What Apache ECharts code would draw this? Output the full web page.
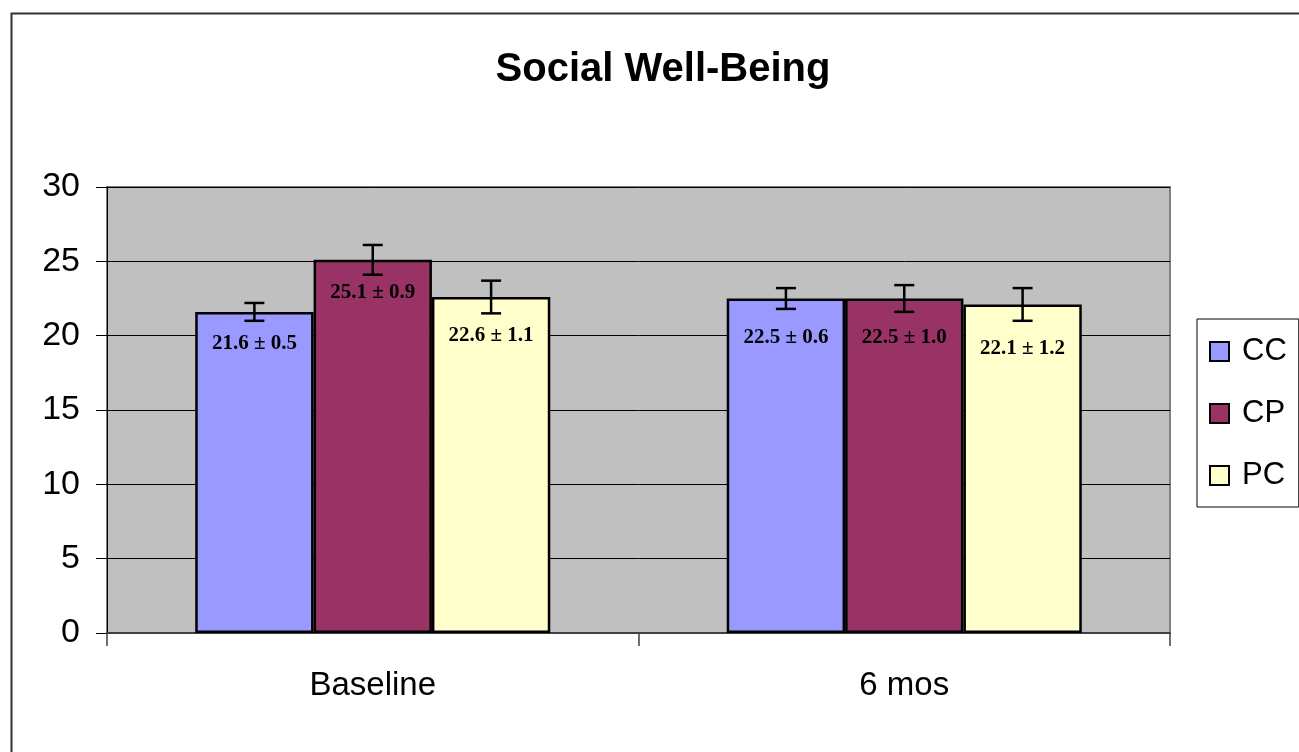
<!DOCTYPE html>
<html>
<head>
<meta charset="utf-8">
<script src="https://cdn.jsdelivr.net/npm/echarts@6/dist/echarts.min.js"></script>
<style>
  html, body { margin: 0; padding: 0; background: #fff; }
  #chart { width: 1299px; height: 752px; }
</style>
</head>
<body>
<div id="chart"></div>
<script>
// data
const categories = ['Baseline', '6 mos']
const groupNames = ['CC', 'CP', 'PC']
const ccValues = [21.6, 22.5]
const cpValues = [25.1, 22.5]
const pcValues = [22.6, 22.1]
// printed +/- values in the labels
const ccSd = [0.5, 0.6]
const cpSd = [0.9, 1.0]
const pcSd = [1.1, 1.2]
// half length of the drawn error bars
const ccErr = [0.6, 0.7]
const cpErr = [1.0, 0.9]
const pcErr = [1.1, 1.1]
const yTicks = [0, 5, 10, 15, 20, 25, 30]

const colors = ['#9999FF', '#993366', '#FFFFCC']
// label drop from bar top (px), per group / category
const labelDrop = [[21, 29], [22, 29], [28, 34]]
const gapRatio = 0.332

const values = [ccValues, cpValues, pcValues]
const sds = [ccSd, cpSd, pcSd]
const errs = [ccErr, cpErr, pcErr]

const barSeries = groupNames.map(function(name, g) {
  return {
    name: name,
    type: 'bar',
    barGap: '0%',
    barCategoryGap: (gapRatio * 100) + '%',
    itemStyle: { color: colors[g], borderColor: '#000', borderWidth: 2.5 },
    data: values[g].map(function(v, i) {
      return {
        value: v,
        label: {
          show: true,
          position: 'insideTop',
          distance: labelDrop[g][i],
          formatter: v.toFixed(1) + ' \u00b1 ' + sds[g][i].toFixed(1),
          fontFamily: 'Liberation Serif',
          fontWeight: 'bold',
          fontSize: 21,
          color: '#000'
        }
      }
    })
  }
})

const errData = []
groupNames.forEach(function(name, g) {
  categories.forEach(function(c, i) {
    errData.push([i, g, values[g][i], errs[g][i]])
  })
})

const errSeries = {
  name: 'err',
  type: 'custom',
  z: 10,
  encode: { x: 0, y: 2 },
  data: errData,
  renderItem: function(params, api) {
    const cat = api.value(0)
    const g = api.value(1)
    const v = api.value(2)
    const e = api.value(3)
    const bandW = api.size([1, 0])[0]
    const barW = bandW * (1 - gapRatio) / 3
    const cx = api.coord([cat, v])[0] + (g - 1) * barW
    const top = api.coord([cat, v + e])[1]
    const bot = api.coord([cat, v - e])[1]
    const hw = 10
    const st = { stroke: '#000', lineWidth: 2.5 }
    return {
      type: 'group',
      children: [
        { type: 'line', shape: { x1: cx, y1: top, x2: cx, y2: bot }, style: st },
        { type: 'line', shape: { x1: cx - hw, y1: top, x2: cx + hw, y2: top }, style: st },
        { type: 'line', shape: { x1: cx - hw, y1: bot, x2: cx + hw, y2: bot }, style: st }
      ]
    }
  }
}

const chart = echarts.init(document.getElementById('chart'))
chart.setOption({
  animation: false,
  backgroundColor: '#fff',
  title: {
    text: 'Social Well-Being',
    left: 658,
    top: 45,
    textAlign: 'center',
    textStyle: { fontFamily: 'Liberation Sans', fontWeight: 'bold', fontSize: 40, color: '#000' }
  },
  graphic: [{
    type: 'rect',
    left: 9,
    top: 11,
    shape: { width: 1400, height: 900 },
    style: { fill: 'none', stroke: '#333', lineWidth: 2 },
    silent: true
  }],
  legend: {
    data: groupNames,
    orient: 'vertical',
    left: 1197,
    top: 319,
    padding: [17, 12, 16, 12],
    itemGap: 31,
    itemWidth: 19,
    itemHeight: 19,
    borderColor: '#000',
    borderWidth: 1,
    icon: 'rect',
    textStyle: { fontFamily: 'Liberation Sans', fontSize: 31, color: '#000', padding: [0, 0, 0, 8] }
  },
  grid: {
    left: 107,
    right: 129,
    top: 187,
    bottom: 119,
    show: true,
    backgroundColor: '#C0C0C0',
    borderColor: '#808080',
    borderWidth: 2
  },
  xAxis: {
    type: 'category',
    data: categories,
    axisLine: { lineStyle: { color: '#404040', width: 2 } },
    axisTick: { show: true, length: 13, interval: 0, lineStyle: { color: '#404040', width: 1.5 } },
    axisLabel: { margin: 36, fontFamily: 'Liberation Sans', fontSize: 33, color: '#000' },
    splitLine: { show: false }
  },
  yAxis: {
    type: 'value',
    min: yTicks[0],
    max: yTicks[yTicks.length - 1],
    interval: 5,
    axisLine: { show: true, lineStyle: { color: '#000', width: 1 } },
    axisTick: { show: true, length: 11, lineStyle: { color: '#000', width: 1 } },
    axisLabel: { margin: 27, fontFamily: 'Liberation Sans', fontSize: 34, color: '#000' },
    splitLine: { show: true, lineStyle: { color: '#000', width: 1 } }
  },
  series: barSeries.concat([errSeries])
})
</script>
</body>
</html>
